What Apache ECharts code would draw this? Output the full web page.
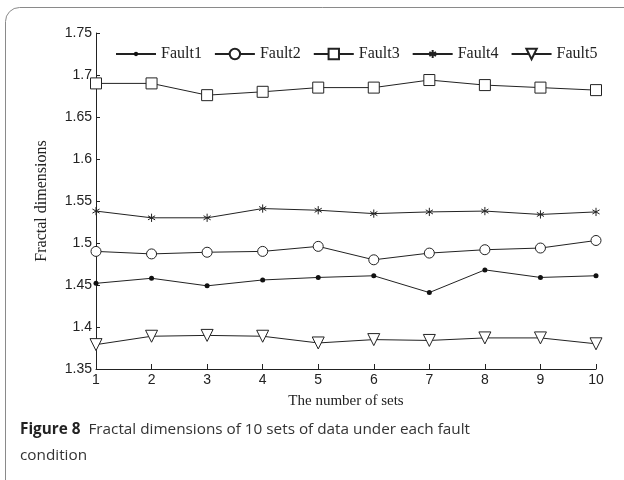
<!DOCTYPE html>
<html>
<head>
<meta charset="utf-8">
<script src="https://cdn.jsdelivr.net/npm/echarts@6/dist/echarts.min.js"></script>
<style>
html,body{margin:0;padding:0;background:#fff;}
#main{width:624px;height:480px;}
</style>
</head>
<body>
<div id="main"></div>
<script>
var categories = ['1','2','3','4','5','6','7','8','9','10'];
var fault1 = [1.452, 1.458, 1.449, 1.456, 1.459, 1.461, 1.441, 1.468, 1.459, 1.461];
var fault2 = [1.490, 1.487, 1.489, 1.490, 1.496, 1.480, 1.488, 1.492, 1.494, 1.503];
var fault3 = [1.690, 1.690, 1.676, 1.680, 1.685, 1.685, 1.694, 1.688, 1.685, 1.682];
var fault4 = [1.538, 1.530, 1.530, 1.541, 1.539, 1.535, 1.537, 1.538, 1.534, 1.537];
var fault5 = [1.379, 1.389, 1.390, 1.389, 1.381, 1.385, 1.384, 1.387, 1.387, 1.380];
var seriesNames = ['Fault1','Fault2','Fault3','Fault4','Fault5'];
var yTicks = {min: 1.35, max: 1.75, step: 0.05};

var chart = echarts.init(document.getElementById('main'), null, {renderer: 'canvas'});

var lineStyle = {color: '#222', width: 1};
var hollow = {color: '#fff', borderColor: '#222', borderWidth: 1};

function mk(name, data, symbol, size, itemStyle) {
  return {
    name: name, type: 'line', data: data,
    symbol: symbol, symbolSize: size,
    showAllSymbol: true,
    lineStyle: lineStyle, itemStyle: itemStyle,
    emphasis: {disabled: true}, animation: false
  };
}

// small dot padded inside a 12x12 box so legend and chart keep proportion
var dotPath = 'path://M0,0M12,12M3.5,6a2.5,2.5 0 1,0 5,0a2.5,2.5 0 1,0 -5,0Z';
var starPath = 'path://M0,0M12,12M6,1.5L6,10.5M2.1,3.75L9.9,8.25M2.1,8.25L9.9,3.75';
var triPath = 'path://M0,0L10,0L5,9Z';

var option = {
  backgroundColor: '#fff',
  animation: false,
  grid: {left: 96, right: 28, top: 33, bottom: 111},
  legend: {
    left: 110, top: 41,
    itemWidth: 40, itemHeight: 13, itemGap: 12,
    textStyle: {fontFamily: 'Liberation Serif', fontSize: 16, color: '#222'},
    data: seriesNames
  },
  xAxis: {
    type: 'category', data: categories, boundaryGap: false,
    name: 'The number of sets', nameLocation: 'middle', nameGap: 25,
    nameTextStyle: {fontFamily: 'Liberation Serif', fontSize: 15, color: '#222'},
    axisLine: {lineStyle: {color: '#222', width: 1}},
    axisTick: {inside: true, length: 5, alignWithLabel: true, lineStyle: {color: '#222'}},
    axisLabel: {fontFamily: 'Liberation Sans', fontSize: 14, color: '#222', margin: 4},
    splitLine: {show: false}
  },
  yAxis: {
    type: 'value', min: yTicks.min, max: yTicks.max, interval: yTicks.step,
    name: 'Fractal dimensions', nameLocation: 'middle', nameGap: 46, nameRotate: 90,
    nameTextStyle: {fontFamily: 'Liberation Serif', fontSize: 16, color: '#222'},
    axisLine: {show: true, lineStyle: {color: '#222', width: 1}},
    axisTick: {show: true, inside: true, length: 4, lineStyle: {color: '#222'}},
    axisLabel: {fontFamily: 'Liberation Sans', fontSize: 14, color: '#222', margin: 4,
      formatter: function (v) { return String(parseFloat(v.toFixed(2))); }},
    splitLine: {show: false}
  },
  graphic: [
    {type: 'rect', z: -10, silent: true,
      shape: {x: 5.5, y: 7.5, width: 640, height: 500, r: 14},
      style: {fill: 'none', stroke: '#8a8a8a', lineWidth: 1}},
    {type: 'text', left: 20, top: 422, silent: true,
      style: {text: '{b|Figure 8}  Fractal dimensions of 10 sets of data under each fault',
        rich: {b: {fontFamily: 'Open Sans', fontWeight: 'bold', fontSize: 15.3, fill: '#222'}},
        fontFamily: 'Open Sans', fontSize: 15.3, fill: '#333'}},
    {type: 'text', left: 20, top: 448, silent: true,
      style: {text: 'condition', fontFamily: 'Open Sans', fontSize: 15.3, fill: '#333'}}
  ],
  series: [
    mk('Fault1', fault1, dotPath, 12, {color: '#111', borderColor: '#111', borderWidth: 0}),
    mk('Fault2', fault2, 'circle', 10, hollow),
    mk('Fault3', fault3, 'rect', 11, hollow),
    mk('Fault4', fault4, starPath, 11, hollow),
    mk('Fault5', fault5, triPath, 12, hollow)
  ]
};
chart.setOption(option);
</script>
</body>
</html>
